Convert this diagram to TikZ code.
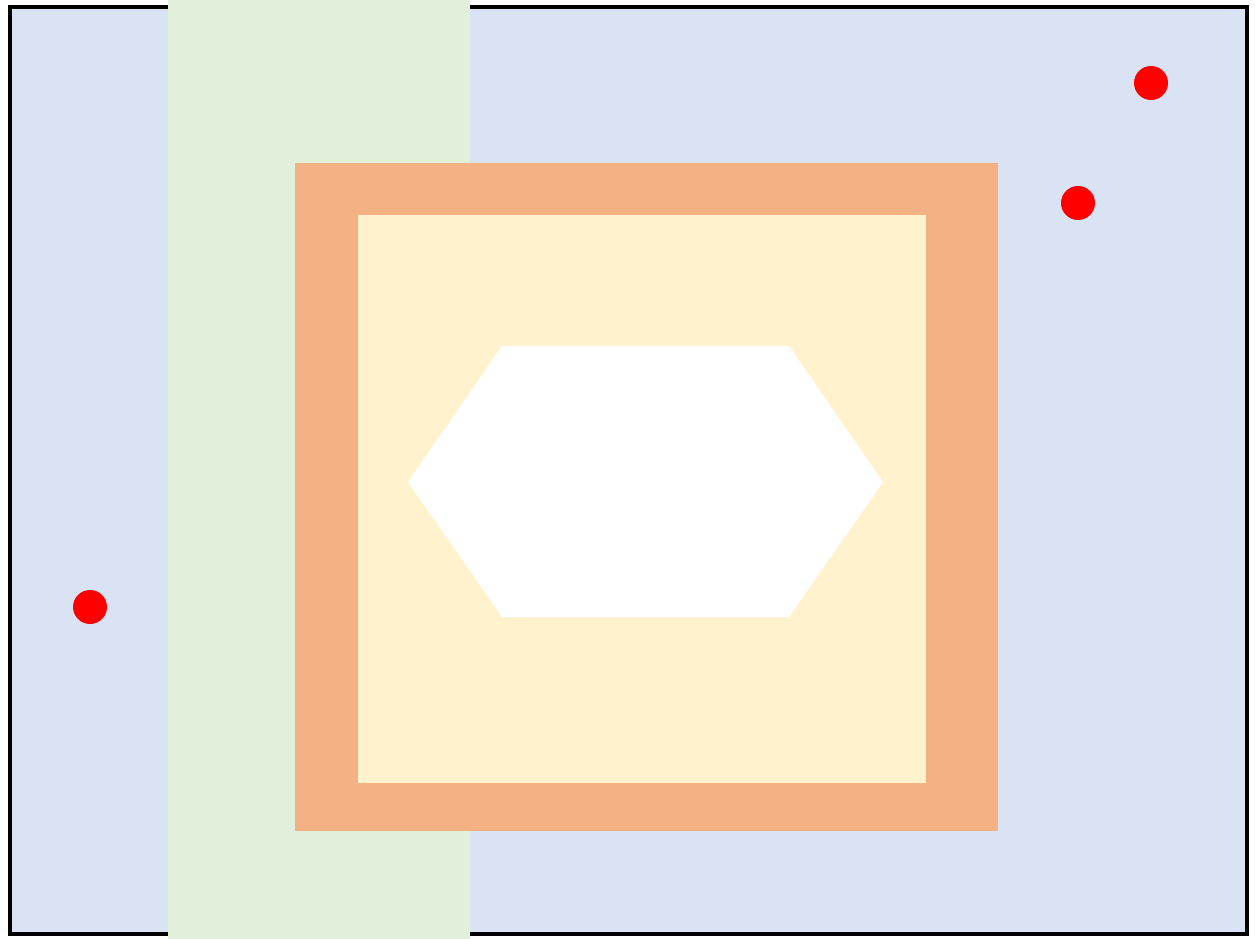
\documentclass[tikz,border=0pt]{standalone}
\usepackage{tikz}
\definecolor{fondbleu}{HTML}{DAE3F3}
\definecolor{bandevert}{HTML}{E2EFDA}
\definecolor{cadreorange}{HTML}{F4B183}
\definecolor{zonejaune}{HTML}{FFF2CC}
\begin{document}
\begin{tikzpicture}[x=0.02cm,y=-0.02cm]
  \useasboundingbox (0,0) rectangle (1255,939);
  % Fond
  \fill[white] (0,0) rectangle (1255,939);
  \draw[fill=fondbleu, line width=2.8pt] (10,7) rectangle (1247,934);
  
  % Bande verticale
  \fill[bandevert] (168,0) rectangle (470,939);
  
  % Cadre et zone interieure
  \fill[cadreorange] (295,163) rectangle (998,831);
  \fill[zonejaune] (358,215) rectangle (926,783);
  
  % Hexagone
  \fill[white] (408,482) -- (502,346) -- (789,346) -- (883,482) -- (789,617) -- (502,617) -- cycle;
  
  % Points
  \fill[red] (1151,83) circle (17);
  \fill[red] (1078,203) circle (17);
  \fill[red] (90,607) circle (17);
\end{tikzpicture}
\end{document}
